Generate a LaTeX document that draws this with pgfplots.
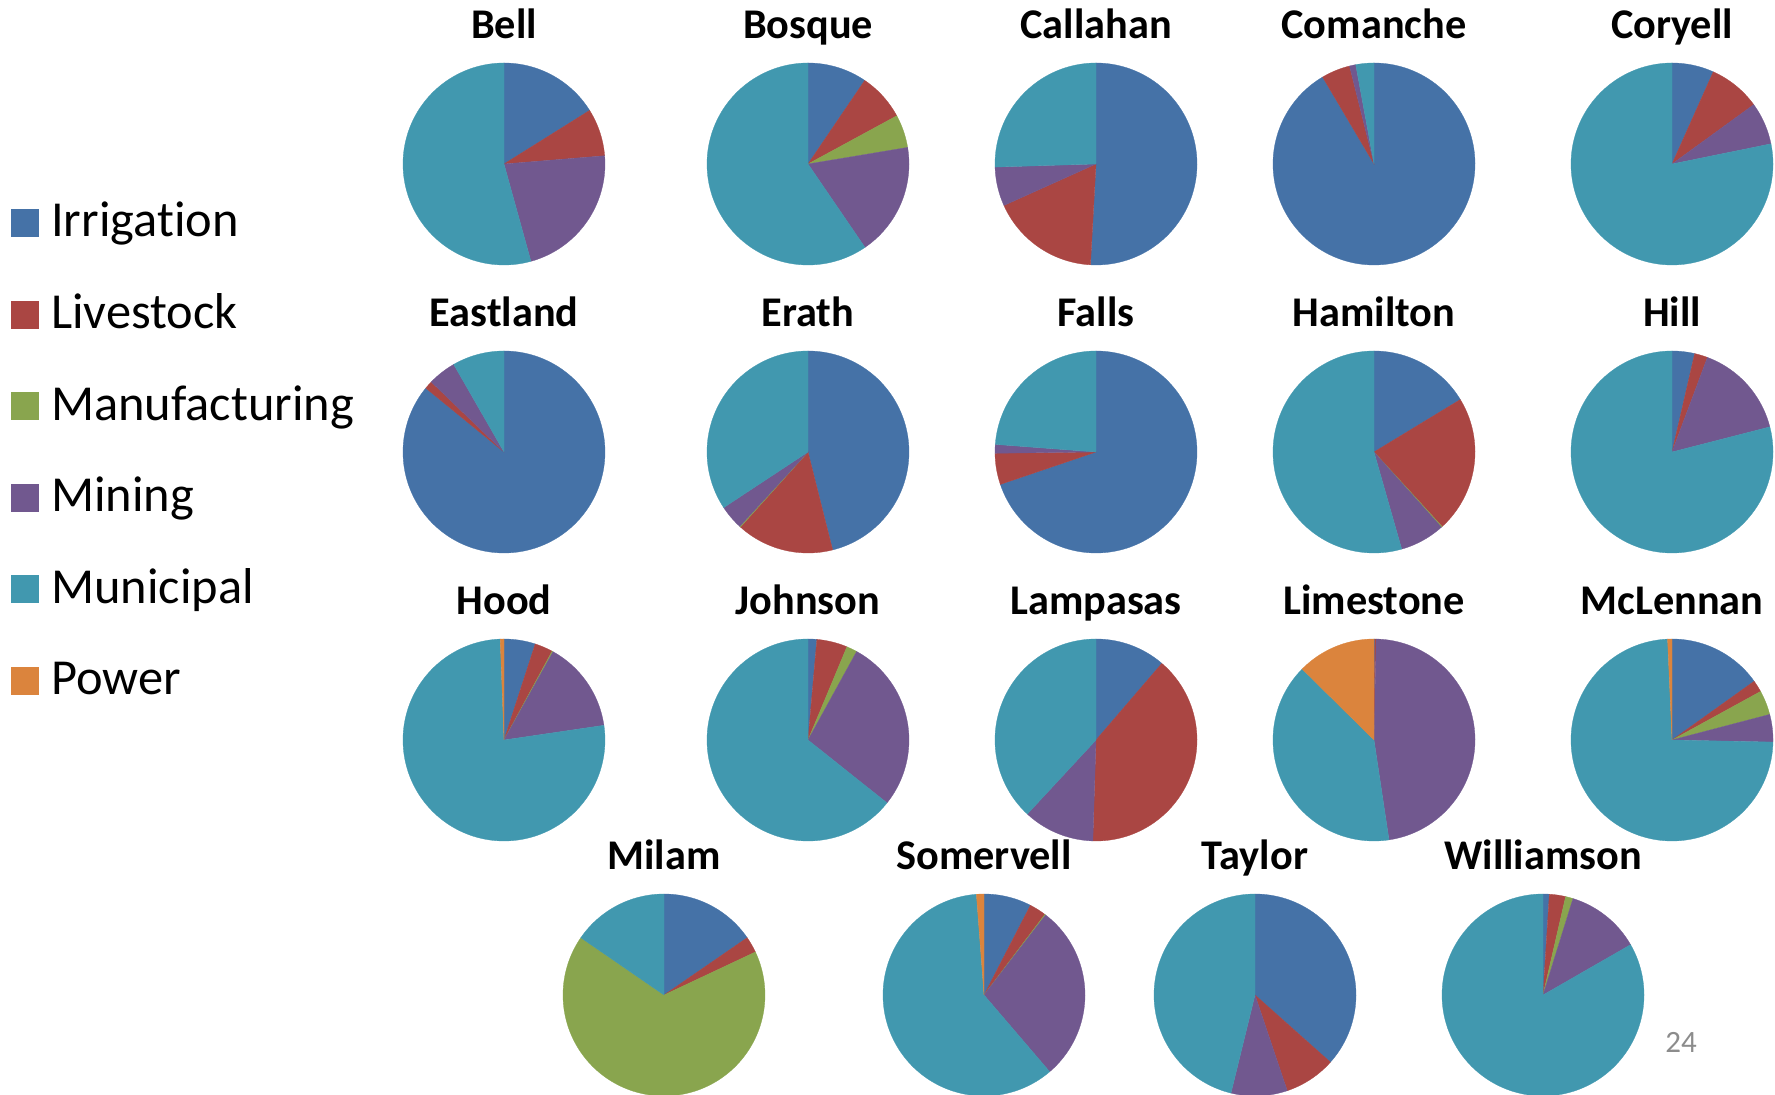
\documentclass[border=0pt]{standalone}
\usepackage{fontspec}
\setmainfont{Carlito}[Ligatures=NoCommon]
\usepackage{pgfplots}
\pgfplotsset{compat=1.18}

\definecolor{cIrr}{HTML}{4572A7}
\definecolor{cLiv}{HTML}{AA4643}
\definecolor{cMan}{HTML}{89A54E}
\definecolor{cMin}{HTML}{71588F}
\definecolor{cMun}{HTML}{4198AF}
\definecolor{cPow}{HTML}{DB843D}
\definecolor{pgnum}{HTML}{8C8C8C}

\newcommand\titlefont{\fontsize{42.3bp}{50bp}\selectfont\bfseries}
\newcommand\legfont{\fontsize{50.4bp}{58bp}\selectfont}

% one slice: colour, value (share of the county's use)
\newcommand\pieslice[2]{%
  \pgfmathsetmacro\sa{90-(\cum+#2)/\tot*360}%
  \pgfmathsetmacro\ea{90-\cum/\tot*360}%
  \pgfmathtruncatemacro\ns{max(3,#2/\tot*180+3)}%
  \ifdim #2pt>0pt
    \edef\tmp{\noexpand\addplot[fill=#1,draw=#1,line width=0.3bp,domain=\sa:\ea,samples=\ns] ({cos(x)},{sin(x)}) -- (0,0) -- cycle;}%
    \tmp
  \fi
  \pgfmathsetmacro\cum{\cum+#2}%
}

% x, y (bp), county, irrigation, livestock, manufacturing, mining, municipal, power
\newcommand\piechart[9]{%
\begin{axis}[at={(#1bp,#2bp)}, anchor=center, scale only axis,
  width=202bp, height=202bp, xmin=-1, xmax=1, ymin=-1, ymax=1,
  hide axis, clip=false]
  \pgfmathsetmacro\tot{#4+#5+#6+#7+#8+#9}%
  \def\cum{0}%
  \pieslice{cIrr}{#4}%
  \pieslice{cLiv}{#5}%
  \pieslice{cMan}{#6}%
  \pieslice{cMin}{#7}%
  \pieslice{cMun}{#8}%
  \pieslice{cPow}{#9}%
  \node[anchor=base, font=\titlefont, inner sep=0pt] at (axis cs:0,1.2376) {#3};
\end{axis}}

\begin{document}
\begin{tikzpicture}

% row 1
\piechart{504}{931}{Bell}{16.1}{7.6}{0}{22.0}{54.3}{0}
\piechart{808}{931}{Bosque}{9.5}{7.6}{5.3}{18.1}{59.6}{0}
\piechart{1096}{931}{Callahan}{50.9}{17.4}{0}{6.25}{25.5}{0}
\piechart{1374}{931}{Comanche}{91.5}{4.6}{0}{1.0}{2.9}{0}
\piechart{1672}{931}{Coryell}{6.7}{8.3}{0}{6.8}{78.2}{0}
% row 2
\piechart{504}{643}{Eastland}{85.9}{1.3}{0}{4.5}{8.3}{0}
\piechart{808}{643}{Erath}{46.1}{15.6}{0.15}{3.9}{34.3}{0}
\piechart{1096}{643}{Falls}{69.8}{5.0}{0}{1.4}{23.8}{0}
\piechart{1374}{643}{Hamilton}{16.3}{21.9}{0.15}{7.2}{54.4}{0}
\piechart{1672}{643}{Hill}{3.6}{2.1}{0}{15.3}{79.0}{0}
% row 3
\piechart{504}{355}{Hood}{5.0}{2.9}{0.17}{14.6}{76.7}{0.6}
\piechart{808}{355}{Johnson}{1.4}{4.9}{1.7}{27.7}{64.3}{0}
\piechart{1096}{355}{Lampasas}{11.3}{39.2}{0}{11.4}{38.1}{0}
\piechart{1374}{355}{Limestone}{0.15}{0.2}{0}{47.3}{39.8}{12.6}
\piechart{1672}{355}{McLennan}{15.1}{1.9}{3.9}{4.4}{73.9}{0.7}
% row 4
\piechart{664}{100}{Milam}{15.4}{2.6}{66.6}{0}{15.4}{0}
\piechart{984}{100}{Somervell}{7.6}{2.7}{0.15}{28.3}{60.1}{1.2}
\piechart{1255}{100}{Taylor}{36.6}{8.25}{0}{9.0}{46.2}{0}
\piechart{1543}{100}{Williamson}{1.0}{2.6}{1.2}{11.9}{83.3}{0}

% legend
\foreach \c/\t [count=\i from 0] in {cIrr/Irrigation,cLiv/Livestock,cMan/Manufacturing,cMin/Mining,cMun/Municipal,cPow/Power}{
  \pgfmathsetmacro\yb{1095-237-91.6*\i}
  \fill[\c] (11bp,\yb bp) rectangle (39bp,\yb bp+28bp);
  \node[anchor=base west, inner sep=0pt, font=\legfont] at (51bp,\yb bp) {\t};
}

% page number
\node[anchor=base, inner sep=0pt, text=pgnum, font=\fontsize{31bp}{36bp}\selectfont] at (1681bp,42bp) {24};

\pgfresetboundingbox
\path[use as bounding box] (0bp,0bp) rectangle (1775bp,1095bp);
\end{tikzpicture}
\end{document}
